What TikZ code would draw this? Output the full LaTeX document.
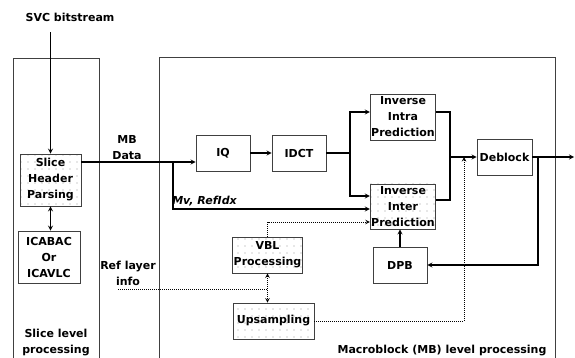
\documentclass[tikz,border=0pt]{standalone}
\usepackage{fontspec}
\setmainfont{DejaVu Sans}
\usetikzlibrary{arrows,patterns.meta}

\begin{document}
\begin{tikzpicture}
  [
    x=1pt, y=-1pt,
    ->,
    >=stealth,
    line width=1.2pt,
    font=\fontsize{11}{16}\selectfont\bfseries,
    block/.style={draw=black!75, line width=0.8pt, align=center, inner sep=1pt},
    dotted block/.style={block, pattern={Dots[radius=0.55pt, distance=7pt]}, pattern color=black!40},
    caption/.style={align=center}
    ]
   \tikzstyle{dotlink} = [densely dotted, line width=1pt]
   \tikzstyle{panel} = [-, line width=0.8pt, black!75]

  \useasboundingbox (0,0) rectangle (575,358);

  % the two processing levels
  \draw[panel] (13,359) |- (99,58) -- (99,359);
  \draw[panel] (159,359) |- (555,57) -- (555,359);

  \node[caption] (svc) at (70,17) {SVC bitstream};
  \node[dotted block, minimum width=61pt, minimum height=52pt] (slice) at (50.5,180) {Slice\\Header\\Parsing};
  \node[block, minimum width=62pt, minimum height=52pt] (icabac) at (49,257) {ICABAC\\Or\\ICAVLC};
  \node[caption] (slicelvl) at (56,343) {Slice level\\processing};
  \node[caption] (mbdata) at (127,148) {MB\\Data};
  \node[caption] (refinfo) at (128,273) {Ref layer\\info};

  \node[block, minimum width=54pt, minimum height=36pt] (iq) at (223,153) {IQ};
  \node[block, minimum width=54pt, minimum height=36pt] (idct) at (299,153) {IDCT};
  \node[block, minimum width=64pt, minimum height=46pt] (intra) at (403,117) {Inverse\\Intra\\Prediction};
  \node[dotted block, minimum width=64pt, minimum height=45pt] (inter) at (403,206.5) {Inverse\\Inter\\Prediction};
  \node[block, minimum width=55pt, minimum height=36pt] (deblock) at (504.5,157) {Deblock};
  \node[block, minimum width=54pt, minimum height=36pt] (dpb) at (400,265) {DPB};
  \node[dotted block, minimum width=69pt, minimum height=36pt] (vbl) at (267.5,255) {VBL\\Processing};
  \node[dotted block, minimum width=81pt, minimum height=36pt] (ups) at (273.5,321) {Upsampling};
  \node[caption, font=\fontsize{11}{16}\selectfont\bfseries\itshape] (mvidx) at (204.5,201) {Mv, RefIdx};
  \node[caption] (mblvl) at (442,351) {Macroblock (MB) level processing};

  \coordinate (mbsplit) at (173,162);
  \coordinate (dctsplit) at (350,153);
  \coordinate (join) at (450,157);
  \coordinate (upjoin) at (464,157);
  \coordinate (fb) at (538,157);
  \coordinate (out) at (574,157);
  \coordinate (refend) at (118,289);

  \draw[shorten <=7pt] (svc.south -| slice.north) -- (slice.north);
  \draw[<->] (slice.south) -- (slice.south |- icabac.north);
  \draw (slice.east |- mbsplit) -- (iq.west |- mbsplit);
  \draw (mbsplit) |- ([yshift=-2.5pt]inter.west);
  \draw (iq) -- (idct);
  \draw (idct) -- (dctsplit) |- ([yshift=5pt]intra.west);
  \draw (dctsplit) |- ([yshift=10.5pt]inter.west);
  \draw[-] ([yshift=5pt]intra.east) -| (join);
  \draw[-] ([yshift=6.5pt]inter.east) -| (join);
  \draw (join) -- (deblock);
  \draw (deblock) -- (out);
  \draw (fb) |- (dpb.east);
  \draw (dpb.north) -- (dpb.north |- inter.south);
  \draw[dotlink] (vbl.north) |- ([yshift=-15.5pt]inter.west);
  \draw[dotlink, <->] (vbl.south) -- (vbl.south |- ups.north);
  \draw[dotlink, -] (refend) -- (refend -| vbl.south);
  \draw[dotlink] (ups.east) -| (upjoin);

\end{tikzpicture}
\end{document}
